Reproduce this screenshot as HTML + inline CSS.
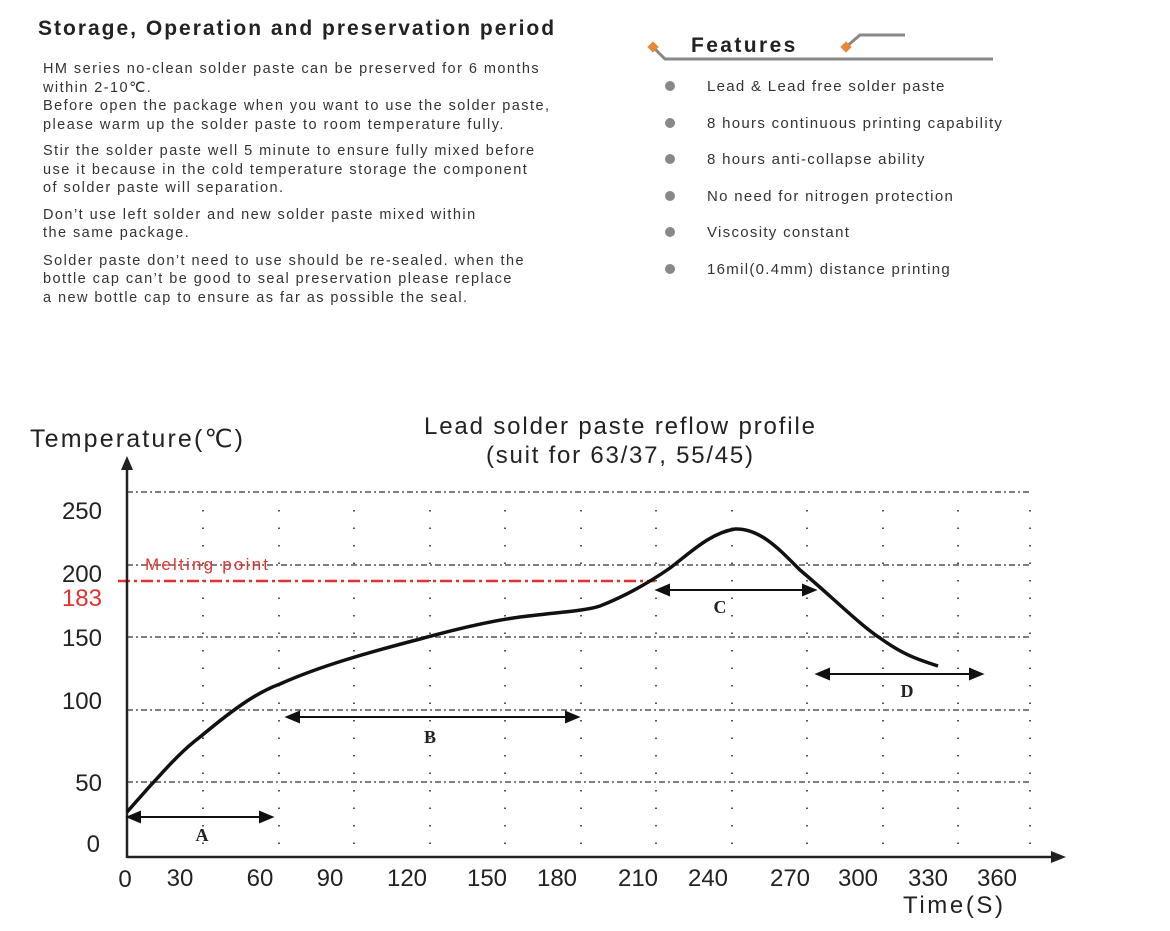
<!DOCTYPE html>
<html><head><meta charset="utf-8"><style>
body{margin:0;width:1170px;height:931px;background:#fff;font-family:"Liberation Sans",sans-serif;position:relative;overflow:hidden}
.t{position:absolute;white-space:nowrap;color:#222}
</style></head><body>
<div class="t" style="left:38px;top:17px;font-size:21px;font-weight:bold;letter-spacing:2px">Storage, Operation and preservation period</div>
<div class="t" style="left:43px;top:60px;font-size:14.5px;line-height:18.5px;color:#333;letter-spacing:1.45px">
HM series no-clean solder paste can be preserved for 6 months<br>within 2-10℃.<br>Before open the package when you want to use the solder paste,<br>please warm up the solder paste to room temperature fully.<br>
<div style="height:8px"></div>Stir the solder paste well 5 minute to ensure fully mixed before<br>use it because in the cold temperature storage the component<br>of solder paste will separation.<br>
<div style="height:8px"></div>Don’t use left solder and new solder paste mixed within<br>the same package.<br>
<div style="height:9px"></div>Solder paste don’t need to use should be re-sealed. when the<br>bottle cap can’t be good to seal preservation please replace<br>a new bottle cap to ensure as far as possible the seal.</div>
<svg width="1170" height="931" style="position:absolute;left:0;top:0">
<polyline points="653,47 665,59 993,59" fill="none" stroke="#888" stroke-width="3"/>
<polyline points="846,47 860,35 905,35" fill="none" stroke="#888" stroke-width="3"/>
<rect x="649" y="43" width="8" height="8" fill="#e8883a" transform="rotate(45 653 47)"/>
<rect x="842" y="43" width="8" height="8" fill="#e8883a" transform="rotate(45 846 47)"/>
<g fill="#888"><circle cx="670" cy="86" r="5"/><circle cx="670" cy="123" r="5"/><circle cx="670" cy="159" r="5"/><circle cx="670" cy="196" r="5"/><circle cx="670" cy="232" r="5"/><circle cx="670" cy="269" r="5"/></g>
<g stroke="#555" stroke-width="1.5" stroke-dasharray="6,3,2,3" fill="none">
<line x1="127" y1="492" x2="1030" y2="492"/><line x1="127" y1="565" x2="1030" y2="565"/><line x1="127" y1="637" x2="1030" y2="637"/><line x1="127" y1="710" x2="1030" y2="710"/><line x1="127" y1="782" x2="1030" y2="782"/>
</g>
<g stroke="#555" stroke-width="2" stroke-dasharray="1.5,16" fill="none">
<line x1="203" y1="510" x2="203" y2="850"/><line x1="279" y1="510" x2="279" y2="850"/><line x1="354" y1="510" x2="354" y2="850"/><line x1="430" y1="510" x2="430" y2="850"/><line x1="505" y1="510" x2="505" y2="850"/><line x1="581" y1="510" x2="581" y2="850"/><line x1="656" y1="510" x2="656" y2="850"/><line x1="732" y1="510" x2="732" y2="850"/><line x1="807" y1="510" x2="807" y2="850"/><line x1="883" y1="510" x2="883" y2="850"/><line x1="958" y1="510" x2="958" y2="850"/><line x1="1030" y1="510" x2="1030" y2="850"/>
</g>
<line x1="118" y1="581" x2="655" y2="581" stroke="#e53030" stroke-width="2.5" stroke-dasharray="12,4,3,4"/>
<line x1="127" y1="466" x2="127" y2="858" stroke="#222" stroke-width="2.5"/>
<polygon points="127,456 121,470 133,470" fill="#222"/>
<line x1="127" y1="857" x2="1055" y2="857" stroke="#222" stroke-width="2.5"/>
<polygon points="1066,857 1051,851 1051,863" fill="#222"/>
<path d="M127,812 L150,786 C165,770 180,752 200,737 C230,712 255,693 280,684 C320,666 370,652 420,639 C460,628 490,621 520,617 C560,612 585,611 600,606 C625,596 650,582 670,568 C690,553 710,533 735,529 C760,528 780,550 800,570 C830,595 860,625 880,638 C905,656 920,660 938,666" fill="none" stroke="#111" stroke-width="3.5"/>
<g stroke="#111" stroke-width="2" fill="#111">
<line x1="132" y1="817" x2="268" y2="817"/><polygon points="128,817 140,812 140,822"/><polygon points="272,817 260,812 260,822"/>
<line x1="291" y1="717" x2="574" y2="717"/><polygon points="287,717 299,712 299,722"/><polygon points="578,717 566,712 566,722"/>
<line x1="661" y1="590" x2="811" y2="590"/><polygon points="657,590 669,585 669,595"/><polygon points="815,590 803,585 803,595"/>
<line x1="821" y1="674" x2="978" y2="674"/><polygon points="817,674 829,669 829,679"/><polygon points="982,674 970,669 970,679"/>
</g>
<g font-family="Liberation Serif,serif" font-weight="bold" font-size="18" fill="#222" text-anchor="middle">
<text x="202" y="841">A</text><text x="430" y="743">B</text><text x="720" y="613">C</text><text x="907" y="697">D</text></g>
<g font-size="24" fill="#222" text-anchor="end">
<text x="102" y="519">250</text><text x="102" y="582">200</text><text x="102" y="646">150</text><text x="102" y="709">100</text><text x="102" y="791">50</text><text x="100" y="852">0</text>
<text x="102" y="606" fill="#e53030">183</text></g>
<text x="145" y="570" font-size="17" fill="#e53030" textLength="123">Melting point</text>
<g font-size="24" fill="#222" text-anchor="middle">
<text x="125" y="887">0</text><text x="180" y="886">30</text><text x="260" y="886">60</text><text x="330" y="886">90</text><text x="407" y="886">120</text><text x="487" y="886">150</text><text x="557" y="886">180</text><text x="638" y="886">210</text><text x="708" y="886">240</text><text x="790" y="886">270</text><text x="858" y="886">300</text><text x="928" y="886">330</text><text x="997" y="886">360</text></g>
<text x="903" y="913" font-size="24" fill="#222" textLength="100">Time(S)</text>
<text x="30" y="447" font-size="25" fill="#222" textLength="213">Temperature(℃)</text>
<text x="424" y="434" font-size="24" fill="#222" textLength="391">Lead solder paste reflow profile</text>
<text x="486" y="463" font-size="24" fill="#222" textLength="267">(suit for 63/37, 55/45)</text>
</svg>
<div class="t" style="left:691px;top:34px;font-size:21px;font-weight:bold;letter-spacing:2.4px">Features</div>
<div class="t" style="left:707px;top:69px;font-size:15px;line-height:36.6px;color:#333;letter-spacing:1.3px">Lead &amp; Lead free solder paste<br>8 hours continuous printing capability<br>8 hours anti-collapse ability<br>No need for nitrogen protection<br>Viscosity constant<br>16mil(0.4mm) distance printing</div>
</body></html>
